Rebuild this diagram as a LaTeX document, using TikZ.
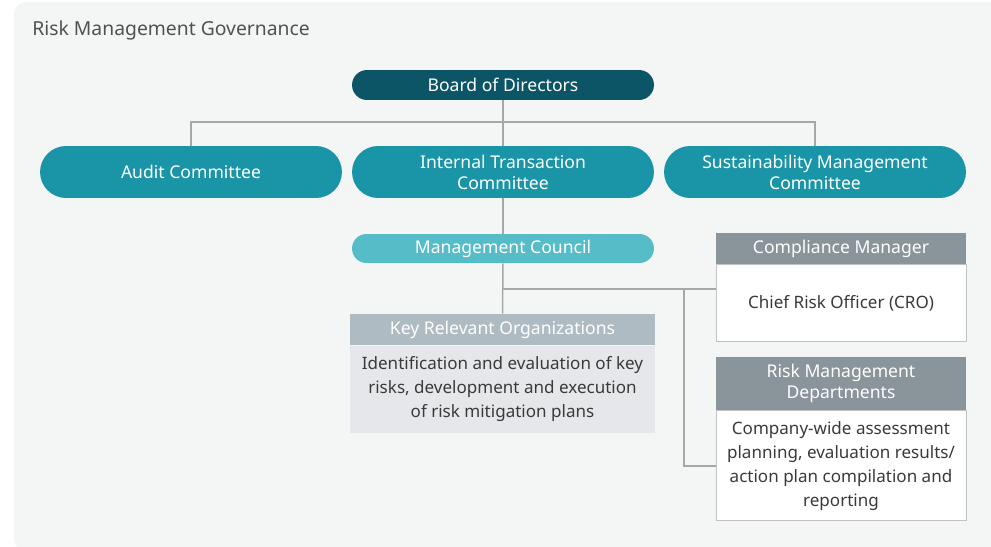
\documentclass[tikz,border=0pt]{standalone}
\usepackage{fontspec}
\setmainfont{Noto Sans}
\usetikzlibrary{positioning,calc}
\definecolor{panelc}{HTML}{F4F6F6}
\definecolor{boardc}{HTML}{0C5567}
\definecolor{commc}{HTML}{1A95A7}
\definecolor{councilc}{HTML}{55BCC8}
\definecolor{kroc}{HTML}{AEBBC2}
\definecolor{krobodyc}{HTML}{E5E7EA}
\definecolor{headc}{HTML}{8A949B}
\definecolor{linkc}{HTML}{A5A8AA}
\definecolor{titlec}{HTML}{4F5254}
\definecolor{textc}{HTML}{3A3A3A}

\begin{document}
\begin{tikzpicture}[x=0.02cm,y=-0.02cm,node distance=0pt]
  \tikzstyle{pill}=[rounded corners=0.3cm,minimum width=6.04cm,minimum height=0.6cm,inner sep=0pt,align=center,text=white,font=\fontsize{10}{12}\selectfont]
  \tikzstyle{comm}=[pill,fill=commc,minimum height=1.04cm,rounded corners=0.52cm]
  \tikzstyle{head}=[inner sep=0pt,minimum width=5cm,minimum height=0.62cm,align=center,text=white,font=\fontsize{10}{12}\selectfont]
  \tikzstyle{body}=[inner sep=0pt,minimum width=5cm,align=center,text=textc,font=\fontsize{9.7}{13.6}\selectfont]
  \tikzstyle{link}=[draw=linkc,line width=0.85pt]
  \useasboundingbox (0,0) rectangle (991,547);
  \begin{scope}
    \clip (0,0) rectangle (991,547);
    \fill[panelc,rounded corners=0.25cm] (14,2) rectangle (1010,552);
  \end{scope}
  \node[anchor=west,inner sep=0pt,text=titlec,font=\fontsize{11}{13}\selectfont] (title) at (32,30) {Risk Management Governance};
  \node[pill,fill=boardc] (board) at (503,85) {Board of Directors};
  \node[comm] (audit) at (191,172) {Audit Committee};
  \node[comm] (itc) at (503,172) {Internal Transaction\\Committee};
  \node[comm] (sust) at (815,172) {Sustainability Management\\Committee};
  \node[pill,fill=councilc,minimum height=0.58cm,rounded corners=0.29cm] (council) at (503,248.5) {Management Council};
  \node[head,fill=kroc,minimum width=6.1cm] (kro) at (502.5,329.5) {Key Relevant Organizations};
  \node[body,fill=krobodyc,minimum width=6.1cm,minimum height=1.74cm,below=of kro] (krob) {Identification and evaluation of key\\risks, development and execution\\of risk mitigation plans};
  \node[head,fill=headc] (cm) at (841,248.5) {Compliance Manager};
  \node[body,fill=white,draw=linkc!70,line width=0.5pt,minimum height=1.54cm,below=of cm] (cmb) {Chief Risk Officer (CRO)};
  \node[head,fill=headc,minimum height=1.06cm] (rmd) at (841,383.5) {Risk Management\\Departments};
  \node[body,fill=white,draw=linkc!70,line width=0.5pt,minimum height=2.2cm,below=of rmd] (rmdb) {Company-wide assessment\\planning, evaluation results/\\action plan compilation and\\reporting};
  \coordinate (bus) at (503,122);
  \coordinate (j1) at (503,289);
  \coordinate (j2) at (684,289);
  \draw[link] (board) -- (itc);
  \draw[link] (audit.north) |- (bus) -| (sust.north);
  \draw[link] (itc) -- (council);
  \draw[link] (council) -- (kro);
  \draw[link] (j1) -- (j1 -| cmb.west);
  \draw[link] (j2) |- (rmdb.west);
\end{tikzpicture}
\end{document}
